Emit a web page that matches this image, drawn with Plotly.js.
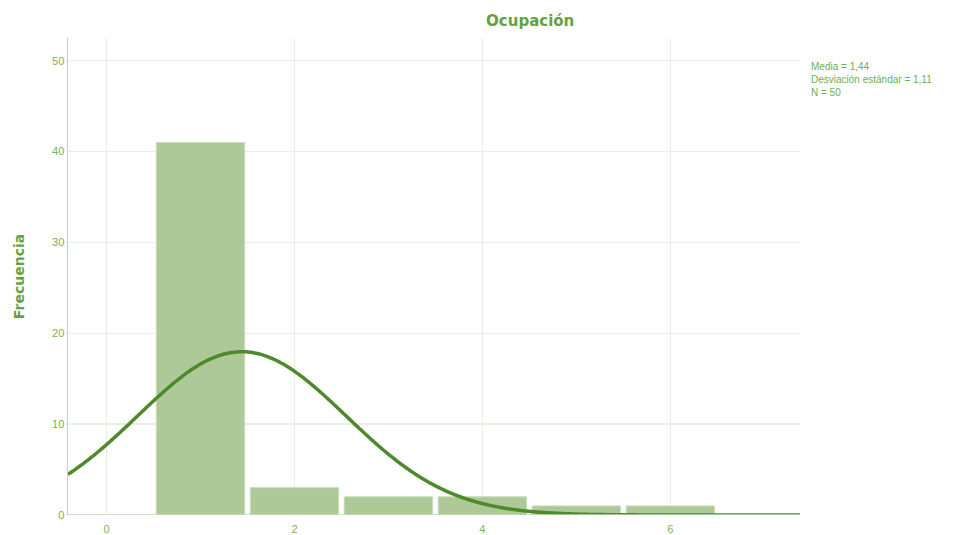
<!DOCTYPE html>
<html>
<head>
<meta charset="utf-8">
<script src="https://cdn.plot.ly/plotly-3.0.1.min.js"></script>
<style>html,body{margin:0;padding:0;background:#fff;} #chart{width:980px;height:535px;}</style>
</head>
<body>
<div id="chart"></div>
<script>
// Data
const categories = [1, 2, 3, 4, 5, 6];
const frequencies = [41, 3, 2, 2, 1, 1];
const mean = 1.44;
const stdDev = 1.11;
const nTotal = 50;
const statsLines = ["Media = 1,44", "Desviación estándar = 1,11", "N = 50"];
const xTicks = [0, 2, 4, 6];
const yTicks = [0, 10, 20, 30, 40, 50];

// Normal curve defined by the chart's stated mean, sd and N (bin width 1)
const xMin = -0.41, xMax = 7.38;
const curveX = [], curveY = [];
for (let i = 0; i <= 300; i++) {
  const x = xMin + (xMax - xMin) * i / 300;
  const z = (x - mean) / stdDev;
  curveX.push(x);
  curveY.push(nTotal / (stdDev * Math.sqrt(2 * Math.PI)) * Math.exp(-0.5 * z * z));
}

const green = 'rgb(98,162,64)';
const tickGreen = 'rgb(120,178,90)';
const traces = [
  {
    type: 'bar', x: categories, y: frequencies, width: 0.94,
    marker: {color: 'rgb(174,201,152)', line: {color: 'rgb(200,220,185)', width: 1}},
    hoverinfo: 'x+y'
  },
  {
    type: 'scatter', mode: 'lines', x: curveX, y: curveY,
    line: {color: 'rgb(78,138,44)', width: 3.5, shape: 'spline'},
    hoverinfo: 'skip'
  }
];

const layout = {
  width: 980, height: 535,
  margin: {l: 68, r: 180, t: 38, b: 20},
  paper_bgcolor: '#fff', plot_bgcolor: '#fff',
  showlegend: false,
  font: {family: 'Liberation Sans, Arial, sans-serif', color: green},
  title: {text: '<b>Ocupación</b>', font: {size: 15, color: green, family: 'Verdana, DejaVu Sans, sans-serif'}, x: 0.541, xanchor: 'center', y: 0.962, yanchor: 'middle'},
  xaxis: {
    range: [xMin, xMax], tickvals: xTicks, ticktext: xTicks.map(String),
    showgrid: true, gridcolor: 'rgb(232,240,226)', gridwidth: 1.5,
    zeroline: false, showline: false, ticks: 'outside', ticklen: 4, tickcolor: 'rgba(0,0,0,0)',
    tickfont: {size: 11, color: tickGreen}
  },
  yaxis: {
    range: [0, 52.5], tickvals: yTicks, ticktext: yTicks.map(String),
    showgrid: true, gridcolor: 'rgb(232,240,226)', gridwidth: 1.5,
    zeroline: false, showline: true, linecolor: 'rgb(190,215,175)', linewidth: 1.5,
    ticks: '', ticklen: 0,
    tickfont: {size: 11, color: tickGreen},
    title: {text: '<b>Frecuencia</b>', font: {size: 14, color: green, family: 'Verdana, DejaVu Sans, sans-serif'}, standoff: 24}
  },
  shapes: [
    {type: 'line', xref: 'paper', yref: 'y', x0: 0, x1: 1, y0: 0, y1: 0, line: {color: 'rgb(190,215,175)', width: 1.5}}
  ],
  annotations: [
    {xref: 'paper', yref: 'paper', x: 1.012, y: 0.957, xanchor: 'left', yanchor: 'top', align: 'left', showarrow: false,
     text: statsLines.join('<br>'), font: {size: 10, color: 'rgb(110,175,80)'}}
  ]
};

Plotly.newPlot('chart', traces, layout, {displayModeBar: false, staticPlot: true});
</script>
</body>
</html>
